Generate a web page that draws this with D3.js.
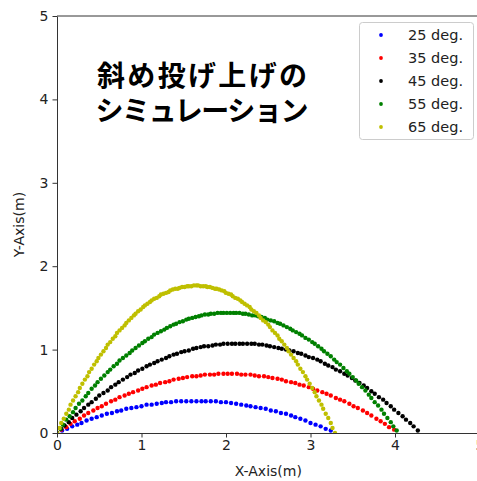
<!DOCTYPE html>
<html>
<head>
<meta charset="utf-8">
<script src="https://cdn.jsdelivr.net/npm/d3@7"></script>
<style>
  body { margin: 0; background: #fff; }
  svg text { font-family: "DejaVu Sans", sans-serif; fill: #222; }
</style>
</head>
<body>
<svg width="477" height="481"></svg>
<script>
// trajectory points [x (m), y (m)], one array per launch angle
const deg25 = [[0,0],[0.06,0.03],[0.12,0.05],[0.18,0.08],[0.24,0.10],[0.29,0.12],[0.35,0.15],[0.41,0.17],[0.47,0.19],[0.53,0.21],
  [0.59,0.23],[0.65,0.24],[0.71,0.26],[0.76,0.27],[0.82,0.29],[0.88,0.30],[0.94,0.31],[1.00,0.32],[1.06,0.34],[1.12,0.34],
  [1.18,0.35],[1.24,0.36],[1.29,0.37],[1.35,0.37],[1.41,0.38],[1.47,0.38],[1.53,0.38],[1.59,0.38],[1.65,0.38],[1.71,0.38],
  [1.76,0.38],[1.82,0.38],[1.88,0.38],[1.94,0.37],[2.00,0.37],[2.06,0.36],[2.12,0.35],[2.18,0.34],[2.24,0.33],[2.29,0.32],
  [2.35,0.31],[2.41,0.30],[2.47,0.29],[2.53,0.27],[2.59,0.26],[2.65,0.24],[2.71,0.23],[2.77,0.21],[2.82,0.19],[2.88,0.17],
  [2.94,0.15],[3.00,0.12],[3.06,0.10],[3.12,0.08],[3.18,0.05],[3.24,0.03]];

const deg35 = [[0,0],[0.05,0.04],[0.11,0.07],[0.16,0.11],[0.21,0.14],[0.27,0.17],[0.32,0.21],[0.37,0.24],[0.43,0.27],[0.48,0.30],
  [0.53,0.32],[0.58,0.35],[0.64,0.38],[0.69,0.40],[0.74,0.43],[0.80,0.45],[0.85,0.47],[0.90,0.49],[0.96,0.51],[1.01,0.53],
  [1.06,0.55],[1.12,0.57],[1.17,0.58],[1.22,0.60],[1.28,0.61],[1.33,0.62],[1.38,0.64],[1.44,0.65],[1.49,0.66],[1.54,0.67],
  [1.60,0.68],[1.65,0.68],[1.70,0.69],[1.75,0.70],[1.81,0.70],[1.86,0.70],[1.91,0.71],[1.97,0.71],[2.02,0.71],[2.07,0.71],
  [2.13,0.71],[2.18,0.70],[2.23,0.70],[2.29,0.70],[2.34,0.69],[2.39,0.68],[2.45,0.68],[2.50,0.67],[2.55,0.66],[2.61,0.65],
  [2.66,0.64],[2.71,0.62],[2.77,0.61],[2.82,0.60],[2.87,0.58],[2.92,0.57],[2.98,0.55],[3.03,0.53],[3.08,0.51],[3.14,0.49],
  [3.19,0.47],[3.24,0.45],[3.30,0.42],[3.35,0.40],[3.40,0.38],[3.46,0.35],[3.51,0.32],[3.56,0.30],[3.62,0.27],[3.67,0.24],
  [3.72,0.21],[3.78,0.17],[3.83,0.14],[3.88,0.11],[3.93,0.07],[3.99,0.04]];

const deg45 = [[0,0],[0.05,0.05],[0.09,0.09],[0.14,0.13],[0.18,0.18],[0.23,0.22],[0.28,0.26],[0.32,0.30],[0.37,0.34],[0.41,0.37],
  [0.46,0.41],[0.50,0.45],[0.55,0.48],[0.60,0.51],[0.64,0.55],[0.69,0.58],[0.73,0.61],[0.78,0.64],[0.83,0.67],[0.87,0.70],
  [0.92,0.72],[0.96,0.75],[1.01,0.77],[1.06,0.80],[1.10,0.82],[1.15,0.84],[1.19,0.86],[1.24,0.88],[1.29,0.90],[1.33,0.92],
  [1.38,0.94],[1.42,0.95],[1.47,0.97],[1.51,0.98],[1.56,0.99],[1.61,1.01],[1.65,1.02],[1.70,1.03],[1.74,1.04],[1.79,1.04],
  [1.84,1.05],[1.88,1.06],[1.93,1.06],[1.97,1.07],[2.02,1.07],[2.07,1.07],[2.11,1.07],[2.16,1.07],[2.20,1.07],[2.25,1.07],
  [2.30,1.07],[2.34,1.07],[2.39,1.06],[2.43,1.06],[2.48,1.05],[2.52,1.04],[2.57,1.03],[2.62,1.02],[2.66,1.01],[2.71,1.00],
  [2.75,0.99],[2.80,0.98],[2.85,0.96],[2.89,0.95],[2.94,0.93],[2.98,0.91],[3.03,0.90],[3.08,0.88],[3.12,0.86],[3.17,0.83],
  [3.21,0.81],[3.26,0.79],[3.30,0.76],[3.35,0.74],[3.40,0.71],[3.44,0.69],[3.49,0.66],[3.53,0.63],[3.58,0.60],[3.63,0.57],
  [3.67,0.54],[3.72,0.50],[3.76,0.47],[3.81,0.43],[3.86,0.40],[3.90,0.36],[3.95,0.32],[3.99,0.28],[4.04,0.24],[4.09,0.20],
  [4.13,0.16],[4.18,0.12],[4.22,0.08],[4.27,0.03]];

const deg55 = [[0,0],[0.04,0.05],[0.07,0.10],[0.11,0.16],[0.15,0.20],[0.19,0.25],[0.22,0.30],[0.26,0.35],[0.30,0.39],[0.34,0.44],
  [0.37,0.48],[0.41,0.53],[0.45,0.57],[0.48,0.61],[0.52,0.65],[0.56,0.69],[0.60,0.73],[0.63,0.76],[0.67,0.80],[0.71,0.83],
  [0.74,0.87],[0.78,0.90],[0.82,0.93],[0.86,0.96],[0.89,0.99],[0.93,1.02],[0.97,1.05],[1.01,1.08],[1.04,1.10],[1.08,1.13],
  [1.12,1.15],[1.15,1.18],[1.19,1.20],[1.23,1.22],[1.27,1.24],[1.30,1.26],[1.34,1.28],[1.38,1.30],[1.41,1.31],[1.45,1.33],
  [1.49,1.34],[1.53,1.36],[1.56,1.37],[1.60,1.38],[1.64,1.39],[1.68,1.40],[1.71,1.41],[1.75,1.42],[1.79,1.42],[1.82,1.43],
  [1.86,1.43],[1.90,1.44],[1.94,1.44],[1.97,1.44],[2.01,1.44],[2.05,1.44],[2.09,1.44],[2.12,1.44],[2.16,1.44],[2.20,1.43],
  [2.23,1.43],[2.27,1.42],[2.31,1.41],[2.35,1.41],[2.38,1.40],[2.42,1.39],[2.46,1.38],[2.49,1.36],[2.53,1.35],[2.57,1.34],
  [2.61,1.32],[2.64,1.31],[2.68,1.29],[2.72,1.27],[2.76,1.25],[2.79,1.23],[2.83,1.21],[2.87,1.19],[2.90,1.17],[2.94,1.14],
  [2.98,1.12],[3.02,1.09],[3.05,1.07],[3.09,1.04],[3.13,1.01],[3.16,0.98],[3.20,0.95],[3.24,0.92],[3.28,0.88],[3.31,0.85],
  [3.35,0.82],[3.39,0.78],[3.43,0.74],[3.46,0.71],[3.50,0.67],[3.54,0.63],[3.57,0.59],[3.61,0.55],[3.65,0.51],[3.69,0.46],
  [3.72,0.42],[3.76,0.37],[3.80,0.33],[3.84,0.28],[3.87,0.23],[3.91,0.18],[3.95,0.13],[3.98,0.08],[4.02,0.03]];

const deg65 = [[0,0],[0.03,0.06],[0.05,0.12],[0.08,0.17],[0.11,0.23],[0.14,0.28],[0.16,0.34],[0.19,0.39],[0.22,0.44],[0.25,0.49],
  [0.27,0.54],[0.30,0.59],[0.33,0.64],[0.36,0.68],[0.38,0.73],[0.41,0.77],[0.44,0.82],[0.47,0.86],[0.49,0.90],[0.52,0.94],
  [0.55,0.98],[0.58,1.02],[0.60,1.06],[0.63,1.09],[0.66,1.13],[0.69,1.16],[0.71,1.20],[0.74,1.23],[0.77,1.26],[0.80,1.29],
  [0.82,1.32],[0.85,1.35],[0.88,1.38],[0.91,1.41],[0.93,1.43],[0.96,1.46],[0.99,1.48],[1.02,1.51],[1.04,1.53],[1.07,1.55],
  [1.10,1.57],[1.12,1.59],[1.15,1.61],[1.18,1.62],[1.21,1.64],[1.23,1.66],[1.26,1.67],[1.29,1.68],[1.32,1.69],[1.34,1.71],
  [1.37,1.72],[1.40,1.73],[1.43,1.73],[1.45,1.74],[1.48,1.75],[1.51,1.75],[1.54,1.76],[1.56,1.76],[1.59,1.76],[1.62,1.77],
  [1.65,1.77],[1.67,1.77],[1.70,1.76],[1.73,1.76],[1.76,1.76],[1.78,1.75],[1.81,1.75],[1.84,1.74],[1.87,1.73],[1.89,1.73],
  [1.92,1.72],[1.95,1.71],[1.98,1.70],[2.00,1.68],[2.03,1.67],[2.06,1.66],[2.08,1.64],[2.11,1.62],[2.14,1.61],[2.17,1.59],
  [2.19,1.57],[2.22,1.55],[2.25,1.53],[2.28,1.51],[2.30,1.48],[2.33,1.46],[2.36,1.44],[2.39,1.41],[2.41,1.38],[2.44,1.35],
  [2.47,1.33],[2.50,1.30],[2.52,1.27],[2.55,1.23],[2.58,1.20],[2.61,1.17],[2.63,1.13],[2.66,1.10],[2.69,1.06],[2.72,1.02],
  [2.74,0.98],[2.77,0.94],[2.80,0.90],[2.83,0.86],[2.85,0.82],[2.88,0.77],[2.91,0.73],[2.94,0.68],[2.96,0.64],[2.99,0.59],
  [3.02,0.54],[3.05,0.49],[3.07,0.44],[3.10,0.39],[3.13,0.34],[3.15,0.29],[3.18,0.23],[3.21,0.18],[3.24,0.12],[3.26,0.06],
  [3.29,0.00]];

const seriesData = [deg25, deg35, deg45, deg55, deg65];
const seriesNames = ["25 deg.", "35 deg.", "45 deg.", "55 deg.", "65 deg."];
const seriesColors = ["#0000ff", "#ff0000", "#000000", "#008000", "#bfbf00"];
const xTicks = [0, 1, 2, 3, 4, 5];
const yTicks = [0, 1, 2, 3, 4, 5];
const titleLines = ["斜め投げ上げの", "シミュレーション"];

var svg = d3.select("svg");

var x = d3.scaleLinear().domain([0, 5]).range([57, 479.5]);
var y = d3.scaleLinear().domain([0, 5]).range([433, 16]);

svg.append("clipPath").attr("id", "plotclip")
  .append("rect")
  .attr("x", x(0)).attr("y", y(5))
  .attr("width", x(5) - x(0)).attr("height", y(0) - y(5));

// points, one group per angle (later ones on top)
var dots = svg.append("g").attr("clip-path", "url(#plotclip)");
seriesData.forEach(function(pts, i) {
  dots.append("g")
    .selectAll("circle")
    .data(pts)
    .enter()
    .append("circle")
    .attr("cx", d => x(d[0]))
    .attr("cy", d => y(d[1]))
    .attr("r", 2.2)
    .attr("fill", seriesColors[i]);
});

// spines
var spine = "#333";
svg.append("line").attr("x1", x(0)).attr("x2", x(5)).attr("y1", y(5)).attr("y2", y(5))
  .attr("stroke", spine).attr("stroke-width", 1);
svg.append("line").attr("x1", x(5)).attr("x2", x(5)).attr("y1", y(5)).attr("y2", y(0))
  .attr("stroke", spine).attr("stroke-width", 1);

var xAxis = d3.axisBottom(x).tickValues(xTicks).tickFormat(d3.format("d"))
  .tickSize(4.5).tickSizeOuter(0).tickPadding(3);
var gx = svg.append("g").attr("transform", "translate(0," + y(0) + ")").call(xAxis);

var yAxis = d3.axisLeft(y).tickValues(yTicks).tickFormat(d3.format("d"))
  .tickSize(4.5).tickSizeOuter(0).tickPadding(4);
var gy = svg.append("g").attr("transform", "translate(" + x(0) + ",0)").call(yAxis);

[gx, gy].forEach(function(g) {
  g.select(".domain").attr("stroke", spine).attr("stroke-width", 1);
  g.selectAll(".tick line").attr("stroke", spine);
  g.selectAll(".tick text")
    .style("font-family", "DejaVu Sans, sans-serif")
    .style("font-size", "14px")
    .attr("fill", "#222");
});

// axis labels
svg.append("text")
  .attr("text-anchor", "middle")
  .attr("x", (x(0) + x(5)) / 2)
  .attr("y", 476)
  .style("font-size", "14px")
  .text("X-Axis(m)");

svg.append("text")
  .attr("text-anchor", "middle")
  .attr("transform", "translate(24," + (y(0) + y(5)) / 2 + ") rotate(-90)")
  .style("font-size", "14px")
  .text("Y-Axis(m)");

// title inside the plot
svg.selectAll(".title")
  .data(titleLines)
  .enter()
  .append("text")
  .attr("class", "title")
  .attr("text-anchor", "middle")
  .attr("x", 202)
  .attr("y", (d, i) => 86 + i * 35)
  .attr("textLength", (d, i) => i === 0 ? 210 : 213)
  .attr("lengthAdjust", "spacing")
  .style("font-family", "'Noto Sans CJK JP', sans-serif")
  .style("font-weight", "bold")
  .style("font-size", "28px")
  .style("fill", "#000")
  .text(d => d);

// legend
var legend = svg.append("g");
legend.append("rect")
  .attr("x", 359.5).attr("y", 22.5)
  .attr("width", 114).attr("height", 117)
  .attr("rx", 3)
  .attr("fill", "#fff").attr("fill-opacity", 0.8)
  .attr("stroke", "#ccc");

seriesNames.forEach(function(name, i) {
  var ly = 35 + i * 23;
  legend.append("circle")
    .attr("cx", 381).attr("cy", ly).attr("r", 1.9)
    .attr("fill", seriesColors[i]);
  legend.append("text")
    .attr("x", 408).attr("y", ly + 5)
    .style("font-size", "14.5px")
    .text(name);
});
</script>
</body>
</html>
